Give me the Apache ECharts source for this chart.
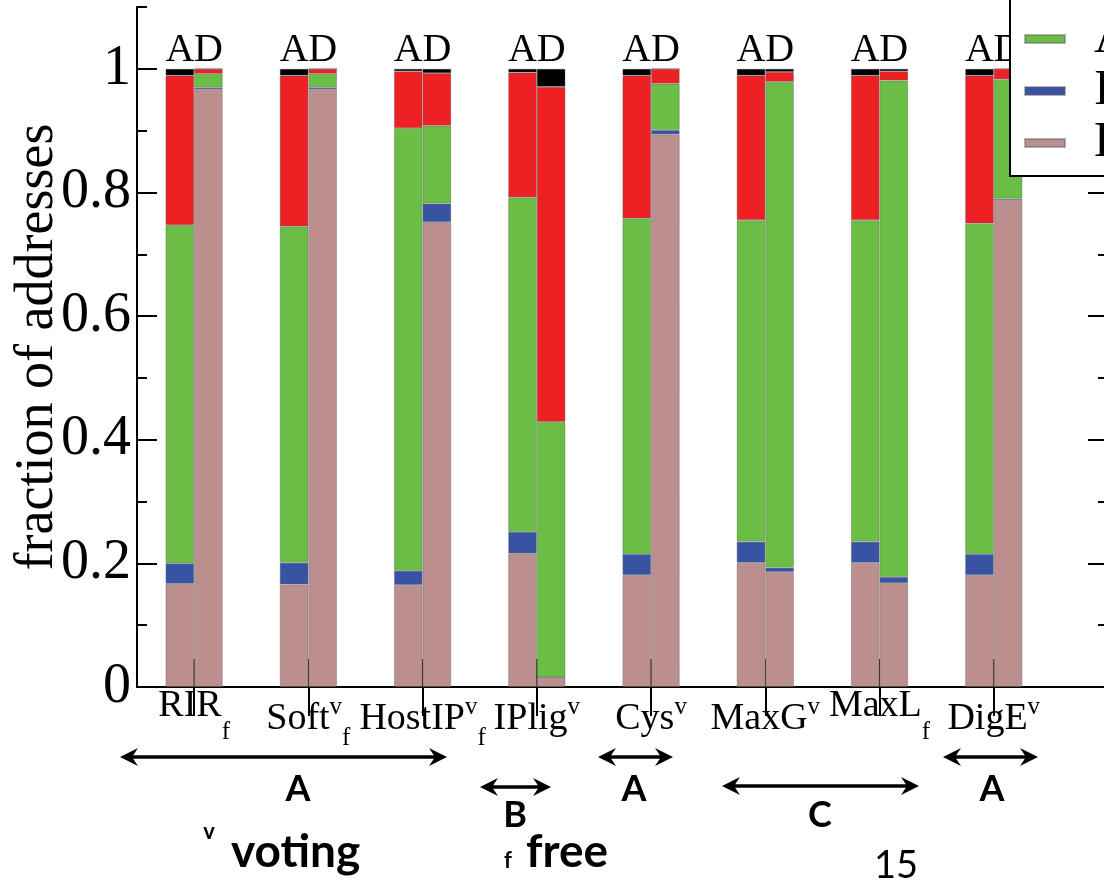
<!DOCTYPE html>
<html>
<head>
<meta charset="utf-8">
<script src="https://cdn.jsdelivr.net/npm/echarts@6/dist/echarts.min.js"></script>
<style>
  html, body { margin: 0; padding: 0; background: #fff; }
  #chart { width: 1104px; height: 883px; }
</style>
</head>
<body>
<div id="chart"></div>
<script>
// Geolocation databases compared; each gets an A bar and a D bar
const databases = ['RIR', 'Soft', 'HostIP', 'IPlig', 'Cys', 'MaxG', 'MaxL', 'DigE'];
const supMark = ['', 'v', 'v', 'v', 'v', 'v', '', 'v'];   // v = voting
const subMark = ['f', 'f', 'f', '', '', '', 'f', ''];     // f = free
const barTags = ['A', 'D'];
const yTicks = [0, 0.2, 0.4, 0.6, 0.8, 1];

// Segment fractions of each stacked bar, bottom to top
const pinkA  = [0.167, 0.166, 0.165, 0.216, 0.181, 0.201, 0.201, 0.181];
const blueA  = [0.033, 0.035, 0.023, 0.035, 0.034, 0.034, 0.034, 0.034];
const greenA = [0.547, 0.544, 0.716, 0.541, 0.543, 0.520, 0.520, 0.535];
const redA   = [0.242, 0.244, 0.092, 0.202, 0.231, 0.234, 0.234, 0.239];
const blackA = [0.011, 0.011, 0.004, 0.006, 0.011, 0.011, 0.011, 0.011];

const pinkD  = [0.967, 0.967, 0.752, 0.016, 0.894, 0.186, 0.168, 0.788];
const blueD  = [0.003, 0.003, 0.030, 0.000, 0.007, 0.007, 0.010, 0.002];
const greenD = [0.022, 0.022, 0.126, 0.413, 0.075, 0.786, 0.803, 0.193];
const redD   = [0.008, 0.008, 0.085, 0.542, 0.024, 0.016, 0.015, 0.017];
const blackD = [0.000, 0.000, 0.007, 0.029, 0.000, 0.005, 0.004, 0.000];

const legendNames = ['Unknown', 'Disagree', 'Agree', 'Inside', 'Exact'];

const SERIF = 'Liberation Serif';
const SANS = 'Lato';
const HALF = 0.125; // half bar spacing in axis units

// stack layers, bottom first
const layers = [
  { name: legendNames[4], color: '#bc8f8f', a: pinkA,  d: pinkD },
  { name: legendNames[3], color: '#3953a4', a: blueA,  d: blueD },
  { name: legendNames[2], color: '#6abd45', a: greenA, d: greenD },
  { name: legendNames[1], color: '#ed2024', a: redA,   d: redD },
  { name: legendNames[0], color: '#000000', a: blackA, d: blackD }
];

// rows are [fraction, position]; the fraction comes first so it is the stacked dimension
function pairData(a, d) {
  const out = [];
  databases.forEach((_, i) => {
    out.push([a[i], i + 1 - HALF]);
    out.push([d[i], i + 1 + HALF]);
  });
  return out;
}

const barSeries = layers.map(l => ({
  type: 'bar',
  name: l.name,
  stack: 'all',
  barWidth: 28.6,
  encode: { x: 1, y: 0 },
  data: pairData(l.a, l.d),
  itemStyle: { color: l.color, borderColor: 'rgba(90,90,90,0.45)', borderWidth: 0.8 },
  emphasis: { disabled: true },
  animation: false
}));

// totals for the A / D tags above each bar
const tagData = [];
databases.forEach((_, i) => {
  const totA = layers.reduce((s, l) => s + l.a[i], 0);
  const totD = layers.reduce((s, l) => s + l.d[i], 0);
  tagData.push({ name: barTags[0], value: [i + 1 - HALF, totA] });
  tagData.push({ name: barTags[1], value: [i + 1 + HALF, totD] });
});

const catPositions = databases.map((_, i) => i + 1);

const xCommon = {
  type: 'value', min: 0.5, max: 9,
  splitLine: { show: false },
  axisLine: { show: true, lineStyle: { color: '#000', width: 2 } }
};
const yCommon = {
  type: 'value', min: 0, max: 1.1,
  splitLine: { show: false },
  axisLine: { show: true, lineStyle: { color: '#000', width: 2 } }
};

function catLabel(v) {
  const i = Math.round(v) - 1;
  if (i < 0 || i >= databases.length) return '';
  const raised = !supMark[i] && subMark[i];
  let s = raised ? '{nr|' + databases[i] + '}' : '{n|' + databases[i] + '}';
  if (supMark[i]) s += '{sup|' + supMark[i] + '}';
  if (subMark[i]) s += raised ? '{subr|' + subMark[i] + '}' : '{sub|' + subMark[i] + '}';
  return s;
}

function arrow(x1, x2, y) {
  const hl = 18, hw = 9, notch = 12;
  return {
    type: 'group',
    children: [
      { type: 'line', shape: { x1: x1 + notch, y1: y, x2: x2 - notch, y2: y },
        style: { stroke: '#000', lineWidth: 3.5 } },
      { type: 'polygon', shape: { points: [[x1, y], [x1 + hl, y - hw], [x1 + notch, y], [x1 + hl, y + hw]] },
        style: { fill: '#000' } },
      { type: 'polygon', shape: { points: [[x2, y], [x2 - hl, y - hw], [x2 - notch, y], [x2 - hl, y + hw]] },
        style: { fill: '#000' } }
    ]
  };
}

function boldText(txt, x, y, size, align) {
  return { type: 'text', x: x, y: y,
    style: { text: txt, fontFamily: SANS, fontWeight: 'bold', fontSize: size, fill: '#000',
             align: align || 'center', verticalAlign: 'middle' } };
}

const chart = echarts.init(document.getElementById('chart'), null, { renderer: 'canvas' });
chart.setOption({
  animation: false,
  backgroundColor: '#fff',
  grid: { left: 137, top: 7, right: -4, bottom: 196, containLabel: false, outerBoundsMode: 'none' },
  xAxis: [
    Object.assign({}, xCommon, {
      position: 'bottom',
      axisTick: { show: true, inside: true, length: 28, customValues: catPositions,
                  lineStyle: { color: '#000', width: 2 } },
      axisLabel: {
        show: true, customValues: catPositions, margin: 0,
        formatter: catLabel,
        rich: {
          n:    { fontFamily: SERIF, fontSize: 38, color: '#000', lineHeight: 64 },
          nr:   { fontFamily: SERIF, fontSize: 38, color: '#000', lineHeight: 40, verticalAlign: 'top' },
          sup:  { fontFamily: SERIF, fontSize: 25, color: '#000', verticalAlign: 'top', padding: [8, 0, 0, 0] },
          sub:  { fontFamily: SERIF, fontSize: 25, color: '#000', lineHeight: 20, verticalAlign: 'bottom' },
          subr: { fontFamily: SERIF, fontSize: 25, color: '#000', lineHeight: 58, verticalAlign: 'bottom' }
        }
      }
    }),
    Object.assign({}, xCommon, {
      position: 'top',
      axisTick: { show: true, inside: true, length: 29, customValues: catPositions,
                  lineStyle: { color: '#000', width: 2 } },
      axisLabel: { show: false }
    })
  ],
  yAxis: [
    Object.assign({}, yCommon, {
      position: 'left',
      name: 'fraction of addresses',
      nameLocation: 'middle',
      nameGap: 72,
      nameMoveOverlap: false,
      nameTextStyle: { fontFamily: SERIF, fontSize: 54, color: '#000' },
      axisTick: { show: true, inside: true, length: 20, customValues: yTicks,
                  lineStyle: { color: '#000', width: 2 } },
      axisLabel: { show: true, customValues: yTicks, margin: 6,
                   fontFamily: SERIF, fontSize: 56, color: '#000',
                   formatter: v => String(Math.round(v * 10) / 10) }
    }),
    Object.assign({}, yCommon, {
      position: 'left', interval: 0.1,
      axisLine: { show: false },
      axisTick: { show: true, inside: true, length: 10, lineStyle: { color: '#000', width: 2 } },
      axisLabel: { show: false }
    }),
    Object.assign({}, yCommon, {
      position: 'right',
      axisTick: { show: true, inside: true, length: 20, customValues: yTicks,
                  lineStyle: { color: '#000', width: 2 } },
      axisLabel: { show: false }
    }),
    Object.assign({}, yCommon, {
      position: 'right', interval: 0.1,
      axisLine: { show: false },
      axisTick: { show: true, inside: true, length: 10, lineStyle: { color: '#000', width: 2 } },
      axisLabel: { show: false }
    })
  ],
  legend: {
    data: legendNames,
    orient: 'vertical',
    left: 1010, top: -98,
    padding: [8, 14, 8, 14],
    itemGap: 2,
    itemWidth: 40, itemHeight: 8,
    icon: 'rect',
    selectedMode: false,
    backgroundColor: '#fff',
    borderColor: '#000', borderWidth: 2,
    textStyle: { fontFamily: SERIF, fontSize: 50, color: '#000', lineHeight: 48, padding: [0, 0, 0, 24] },
    z: 10
  },
  series: barSeries.concat([{
    type: 'scatter',
    name: 'tags',
    data: tagData,
    symbolSize: 0,
    silent: true,
    itemStyle: { opacity: 1 },
    label: { show: true, position: 'top', distance: -2, formatter: p => p.name,
             fontFamily: SERIF, fontSize: 40, color: '#000', opacity: 1 },
    z: 5
  }]),
  graphic: [
    arrow(120, 447, 757),
    arrow(480, 551, 787),
    arrow(598, 673, 757),
    arrow(722, 919, 786),
    arrow(943, 1038, 757),
    boldText('A', 298, 789, 36),
    boldText('B', 515, 815, 36),
    boldText('A', 634, 789, 36),
    boldText('C', 820, 815, 36),
    boldText('A', 992, 789, 36),
    boldText('v', 209, 832, 22),
    boldText('voting', 231, 852, 46, 'left'),
    boldText('f', 508, 861, 22),
    boldText('free', 526, 852, 46, 'left'),
    { type: 'text', x: 896, y: 866,
      style: { text: '15', fontFamily: SANS, fontSize: 38, fill: '#000', align: 'center', verticalAlign: 'middle' } }
  ]
});
</script>
</body>
</html>
